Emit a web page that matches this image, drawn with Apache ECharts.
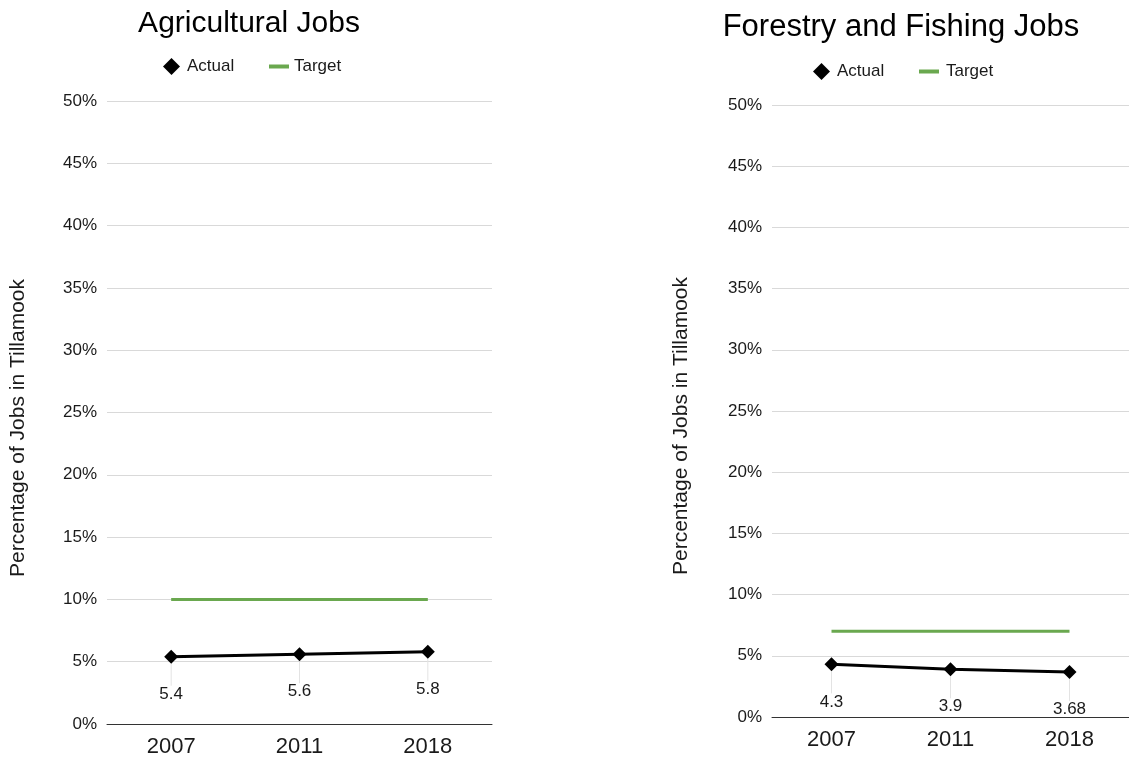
<!DOCTYPE html>
<html>
<head>
<meta charset="utf-8">
<script src="https://cdn.jsdelivr.net/npm/echarts@6/dist/echarts.min.js"></script>
<style>
  html, body { margin: 0; padding: 0; background: #fff; }
  #chart { width: 1129px; height: 758px; }
</style>
</head>
<body>
<div id="chart"></div>
<script>
// Shared categories and tick values
const years = ['2007', '2011', '2018'];
const yTicks = [0, 5, 10, 15, 20, 25, 30, 35, 40, 45, 50];

// Agricultural jobs (% of jobs in Tillamook)
const agriActual = [5.4, 5.6, 5.8];
const agriTarget = [10, 10, 10];

// Forestry and fishing jobs (% of jobs in Tillamook)
const forestActual = [4.3, 3.9, 3.68];
const forestTarget = [7, 7, 7];

const FONT = "'Liberation Sans', Arial, Helvetica, sans-serif";
const GREEN = '#6aa84f';
const AXIS_TITLE = 'Percentage of Jobs in Tillamook';
const targetIcon = 'path://M0,0h20v4H0z';

const chart = echarts.init(document.getElementById('chart'), null, { renderer: 'canvas' });

function xAxisFor(gridIndex) {
  return {
    type: 'category', gridIndex, data: years,
    axisLine: { lineStyle: { color: '#333', width: 1 } },
    axisTick: { show: false },
    axisLabel: { color: '#1a1a1a', fontSize: 22, fontFamily: FONT, margin: 12 }
  };
}
function yAxisFor(gridIndex) {
  return {
    type: 'value', gridIndex, min: yTicks[0], max: yTicks[yTicks.length - 1], interval: 5,
    axisLine: { show: false }, axisTick: { show: false },
    axisLabel: { color: '#1a1a1a', fontSize: 17, fontFamily: FONT, margin: 10, formatter: '{value}%' },
    splitLine: { lineStyle: { color: '#d9d9d9', width: 1 } }
  };
}
function actualSeries(idx, data) {
  return {
    name: 'Actual', type: 'line', xAxisIndex: idx, yAxisIndex: idx, data,
    symbol: 'diamond', symbolSize: 14,
    itemStyle: { color: '#000' },
    lineStyle: { color: '#000', width: 3 },
    label: {
      show: true, position: 'bottom', distance: 4,
      color: '#1a1a1a', fontSize: 17, fontFamily: FONT
    },
    labelLayout: { dy: 18 },
    labelLine: { show: true, lineStyle: { color: '#e3e3e3', width: 1 } },
    z: 3
  };
}
function targetSeries(idx, data) {
  return {
    name: 'Target', type: 'line', xAxisIndex: idx, yAxisIndex: idx, data,
    symbol: 'none', lineStyle: { color: GREEN, width: 3 }, itemStyle: { color: GREEN },
    z: 2
  };
}
function legend(left, top, name, icon, size, padLeft) {
  return {
    left, top, data: [{ name, icon }], itemWidth: size[0], itemHeight: size[1],
    textStyle: { color: '#1a1a1a', fontSize: 17, fontFamily: FONT, padding: [0, 0, 0, padLeft] },
    selectedMode: false
  };
}

chart.setOption({
  animation: false,
  title: [
    { text: 'Agricultural Jobs', left: 244, top: 4, textAlign: 'center',
      textStyle: { color: '#000', fontSize: 30, fontWeight: 'normal', fontFamily: FONT } },
    { text: 'Forestry and Fishing Jobs', left: 896, top: 7, textAlign: 'center',
      textStyle: { color: '#000', fontSize: 31, fontWeight: 'normal', fontFamily: FONT } }
  ],
  legend: [
    legend(158, 53, 'Actual', 'diamond', [17, 17], 2),
    legend(264, 53, 'Target', targetIcon, [20, 14], 0),
    legend(808, 58, 'Actual', 'diamond', [17, 17], 2),
    legend(914, 58, 'Target', targetIcon, [20, 14], 2)
  ],
  grid: [
    { left: 107, top: 101, width: 385, height: 623 },
    { left: 772, top: 105, width: 363, height: 612 }
  ],
  xAxis: [xAxisFor(0), xAxisFor(1)],
  yAxis: [yAxisFor(0), yAxisFor(1)],
  graphic: [
    { type: 'text', x: 18, y: 428, rotation: Math.PI / 2,
      style: { text: AXIS_TITLE, fill: '#1a1a1a', font: '21px ' + FONT, align: 'center', verticalAlign: 'middle' } },
    { type: 'text', x: 681, y: 426, rotation: Math.PI / 2,
      style: { text: AXIS_TITLE, fill: '#1a1a1a', font: '21px ' + FONT, align: 'center', verticalAlign: 'middle' } }
  ],
  series: [
    targetSeries(0, agriTarget), actualSeries(0, agriActual),
    targetSeries(1, forestTarget), actualSeries(1, forestActual)
  ]
});
</script>
</body>
</html>
